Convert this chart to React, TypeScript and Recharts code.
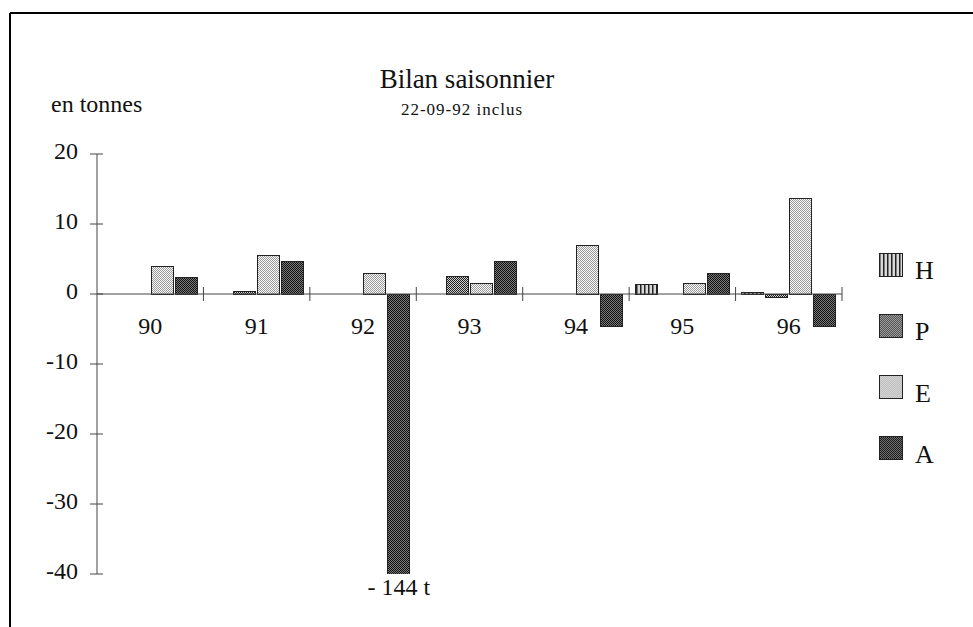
import { Bar, BarChart, LabelList, ReferenceLine, XAxis, YAxis } from "recharts";

// Bilan saisonnier, in tonnes
const seasons = ["90", "91", "92", "93", "94", "95", "96"];
const hValues = [null, null, null, null, null, 1.4, 0.2];
const pValues = [null, 0.3, null, 2.5, null, null, -0.5];
const eValues = [3.9, 5.5, 2.9, 1.5, 7.0, 1.5, 13.7];
const aValues = [2.3, 4.7, -144, 4.6, -4.7, 3.0, -4.7];
const yTicks = [-40, -30, -20, -10, 0, 10, 20];
const yDomain = [-40, 20];

const series = [
  { key: "H", values: hValues, fill: "url(#patH)" },
  { key: "P", values: pValues, fill: "url(#patP)" },
  { key: "E", values: eValues, fill: "url(#patE)" },
  { key: "A", values: aValues, fill: "url(#patA)" },
];

const data = seasons.map((season, i) => {
  const row: Record<string, string | number | null> = { season };
  series.forEach((s) => (row[s.key] = s.values[i]));
  return row;
});

const W = 973;
const H = 627;
const PLOT_LEFT = 97;
const PLOT_TOP = 154;
const PLOT_BOTTOM = 574;
const PLOT_RIGHT = 842;
const FONT = "'Liberation Serif', 'Times New Roman', serif";
const INK = "#111";
const AXIS = "#444";

function YTick(props: any) {
  const { y, payload } = props;
  return (
    <g>
      <line x1={PLOT_LEFT - 7} x2={PLOT_LEFT + 6} y1={y} y2={y} stroke={AXIS} />
      <text x={PLOT_LEFT - 19} y={y + 5} textAnchor="end" fontSize={24} fontFamily={FONT} fill={INK}>
        {payload.value}
      </text>
    </g>
  );
}

// category labels and separators drawn along the zero line
function ZeroAxis(props: any) {
  const { viewBox } = props;
  if (!viewBox) return null;
  const { x, y, width } = viewBox;
  const band = width / seasons.length;
  return (
    <g>
      {seasons.map((s, i) => (
        <g key={s}>
          <line x1={x + band * (i + 1)} x2={x + band * (i + 1)} y1={y - 7} y2={y + 7} stroke={AXIS} />
          <text x={x + band * (i + 0.5)} y={y + 40} textAnchor="middle" fontSize={24} fontFamily={FONT} fill={INK}>
            {s}
          </text>
        </g>
      ))}
    </g>
  );
}

function OverflowLabel(props: any) {
  const { x, y, width, height, value } = props;
  if (value == null || value >= yDomain[0]) return null;
  const bottom = Math.min(Math.max(y, y + height), PLOT_BOTTOM);
  return (
    <text x={x + width / 2} y={bottom + 21} textAnchor="middle" fontSize={24} fontFamily={FONT} fill={INK}>
      {`- ${Math.abs(value)} t`}
    </text>
  );
}

export default function App() {
  return (
    <div style={{ position: "absolute", left: 0, top: 0, width: W, height: H, background: "#fff" }}>
      <BarChart
        width={W}
        height={H}
        data={data}
        margin={{ top: PLOT_TOP, right: W - PLOT_RIGHT, bottom: H - PLOT_BOTTOM, left: 0 }}
        barSize={22}
        barGap={2}
      >
        <defs>
          <pattern id="patH" width="4" height="4" patternUnits="userSpaceOnUse">
            <rect width="4" height="4" fill="#d8d8d8" />
            <rect width="1.5" height="4" fill="#222" />
          </pattern>
          <pattern id="patP" width="2" height="2" patternUnits="userSpaceOnUse">
            <rect width="2" height="2" fill="#cfcfcf" />
            <rect width="1" height="1" fill="#222" />
            <rect x="1" y="1" width="1" height="1" fill="#222" />
          </pattern>
          <pattern id="patE" width="2" height="2" patternUnits="userSpaceOnUse">
            <rect width="2" height="2" fill="#fafafa" />
            <rect width="1" height="1" fill="#999" />
            <rect x="1" y="1" width="1" height="1" fill="#999" />
          </pattern>
          <pattern id="patA" width="2" height="2" patternUnits="userSpaceOnUse">
            <rect width="2" height="2" fill="#7a7a7a" />
            <rect width="1" height="1" fill="#111" />
            <rect x="1" y="1" width="1" height="1" fill="#111" />
          </pattern>
        </defs>
        <XAxis dataKey="season" hide />
        <YAxis
          domain={yDomain}
          ticks={yTicks}
          interval={0}
          allowDataOverflow
          width={PLOT_LEFT}
          axisLine={{ stroke: AXIS }}
          tickLine={false}
          tick={<YTick />}
        />
        <ReferenceLine y={0} stroke={AXIS} label={<ZeroAxis />} />
        {series.map((s) => (
          <Bar
            key={s.key}
            dataKey={s.key}
            fill={s.fill}
            stroke="#222"
            strokeWidth={1}
            shapeRendering="crispEdges"
            isAnimationActive={false}
          >
            {s.key === "A" && <LabelList dataKey="A" content={<OverflowLabel />} />}
          </Bar>
        ))}
      </BarChart>

      <svg
        width={W}
        height={H}
        style={{ position: "absolute", left: 0, top: 0, pointerEvents: "none" }}
      >
        <line x1={10} y1={13} x2={W} y2={13} stroke="#000" strokeWidth={2} />
        <line x1={10} y1={13} x2={10} y2={H} stroke="#000" strokeWidth={2} />
        <text x={467} y={88} textAnchor="middle" fontSize={27} fontFamily={FONT} fill={INK}>
          Bilan saisonnier
        </text>
        <text x={462} y={115} textAnchor="middle" fontSize={17} letterSpacing={1} fontFamily={FONT} fill={INK}>
          22-09-92 inclus
        </text>
        <text x={51} y={112} fontSize={24} fontFamily={FONT} fill={INK}>
          en tonnes
        </text>
        {series.map((s, i) => (
          <g key={s.key} transform={`translate(879, ${253 + i * 61.3})`}>
            <rect width={23} height={23} fill={s.fill} stroke="#222" shapeRendering="crispEdges" />
            <text x={36} y={26} fontSize={26} fontFamily={FONT} fill={INK}>
              {s.key}
            </text>
          </g>
        ))}
      </svg>
    </div>
  );
}
